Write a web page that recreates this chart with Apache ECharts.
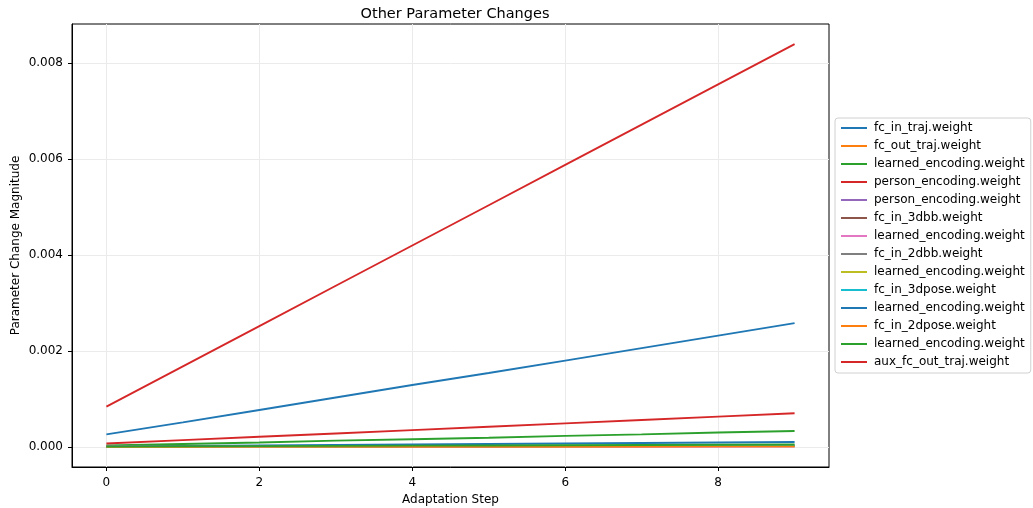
<!DOCTYPE html>
<html>
<head>
<meta charset="utf-8">
<script src="https://cdn.jsdelivr.net/npm/echarts@6/dist/echarts.min.js"></script>
<style>html,body{margin:0;padding:0;background:#fff;}#c{width:1033px;height:508px;}</style>
</head>
<body>
<div id="c"></div>
<script>
const steps = [0, 1, 2, 3, 4, 5, 6, 7, 8, 9];
const seriesNames = [
  'fc_in_traj.weight', 'fc_out_traj.weight', 'learned_encoding.weight', 'person_encoding.weight',
  'person_encoding.weight', 'fc_in_3dbb.weight', 'learned_encoding.weight', 'fc_in_2dbb.weight',
  'learned_encoding.weight', 'fc_in_3dpose.weight', 'learned_encoding.weight', 'fc_in_2dpose.weight',
  'learned_encoding.weight', 'aux_fc_out_traj.weight'
];
const fcInTraj       = [0.00026, 0.00051, 0.00077, 0.00103, 0.00129, 0.00154, 0.00180, 0.00206, 0.00232, 0.00258];
const fcOutTraj      = [0.000003, 0.000004, 0.000005, 0.000006, 0.000007, 0.000008, 0.000009, 0.00001, 0.000011, 0.000012];
const learnedEnc1    = [0.00003, 0.00006, 0.00009, 0.00013, 0.00016, 0.00019, 0.00023, 0.00026, 0.00030, 0.00033];
const personEnc1     = [0.00007, 0.00014, 0.00021, 0.00028, 0.00035, 0.00042, 0.00049, 0.00056, 0.00063, 0.00070];
const personEnc2     = [0.000002, 0.000003, 0.000004, 0.000005, 0.000006, 0.000007, 0.000008, 0.000009, 0.00001, 0.000011];
const fcIn3dbb       = [0.000004, 0.000006, 0.000008, 0.00001, 0.000012, 0.000014, 0.000016, 0.000018, 0.00002, 0.000022];
const learnedEnc2    = [0.000001, 0.000002, 0.000003, 0.000004, 0.000005, 0.000006, 0.000007, 0.000008, 0.000009, 0.00001];
const fcIn2dbb       = [0.000003, 0.000005, 0.000007, 0.000009, 0.000011, 0.000013, 0.000015, 0.000017, 0.000019, 0.000021];
const learnedEnc3    = [0.000002, 0.000004, 0.000006, 0.000008, 0.00001, 0.000012, 0.000014, 0.000016, 0.000018, 0.00002];
const fcIn3dpose     = [0.000004, 0.000007, 0.00001, 0.000013, 0.000016, 0.000019, 0.000022, 0.000025, 0.000028, 0.000031];
const learnedEnc4    = [0.00001, 0.00002, 0.00003, 0.00004, 0.00005, 0.00006, 0.00007, 0.00008, 0.00009, 0.00010];
const fcIn2dpose     = [0.000002, 0.000003, 0.000004, 0.000005, 0.000006, 0.000007, 0.000008, 0.000009, 0.00001, 0.000011];
const learnedEnc5    = [0.000005, 0.00001, 0.000015, 0.00002, 0.000025, 0.00003, 0.000035, 0.00004, 0.000045, 0.00005];
const auxFcOutTraj   = [0.00084, 0.00168, 0.00252, 0.00336, 0.00420, 0.00504, 0.00588, 0.00672, 0.00756, 0.00840];
const seriesValues = [fcInTraj, fcOutTraj, learnedEnc1, personEnc1, personEnc2, fcIn3dbb, learnedEnc2,
  fcIn2dbb, learnedEnc3, fcIn3dpose, learnedEnc4, fcIn2dpose, learnedEnc5, auxFcOutTraj];
const xTicks = [0, 2, 4, 6, 8];
const yTicks = [0, 0.002, 0.004, 0.006, 0.008];
const palette = ['#1f77b4', '#ff7f0e', '#2ca02c', '#d62728', '#9467bd', '#8c564b', '#e377c2', '#7f7f7f', '#bcbd22', '#17becf'];

// make duplicate legend names unique with zero-width spaces
const seen = {};
const uniqueNames = seriesNames.map(n => {
  seen[n] = (seen[n] || 0) + 1;
  return n + '\u200b'.repeat(seen[n] - 1);
});

const font = 'DejaVu Sans';
const chart = echarts.init(document.getElementById('c'), null, {renderer: 'canvas'});
chart.setOption({
  animation: false,
  backgroundColor: '#fff',
  title: {
    text: 'Other Parameter Changes', left: 450, top: 2, textAlign: 'center',
    textStyle: {fontFamily: font, fontSize: 14.5, fontWeight: 'normal', color: '#000'}
  },
  grid: {left: 72, right: 204, top: 24, bottom: 41, outerBoundsMode: 'none', containLabel: false,
    show: true, borderColor: '#000', borderWidth: 1, backgroundColor: 'transparent'},
  legend: {
    orient: 'vertical', left: 835, top: 118,
    data: uniqueNames,
    icon: 'rect', itemWidth: 26, itemHeight: 2, itemGap: 4,
    padding: [3, 6, 4, 6],
    borderColor: '#d0d0d0', borderWidth: 1, borderRadius: 3,
    textStyle: {fontFamily: font, fontSize: 12, color: '#000', lineHeight: 14, padding: [0, 0, 0, 2]}
  },
  xAxis: {
    type: 'value', min: -0.45, max: 9.45,
    name: 'Adaptation Step', nameLocation: 'middle', nameGap: 24,
    nameTextStyle: {fontFamily: font, fontSize: 12, color: '#000'},
    axisLine: {show: true, onZero: false, lineStyle: {color: '#000', width: 1}},
    axisTick: {show: true, length: 4, inside: false, customValues: xTicks, lineStyle: {color: '#000'}},
    axisLabel: {customValues: xTicks, fontFamily: font, fontSize: 12, color: '#000', margin: 10, formatter: v => String(v)},
    splitLine: {show: true, lineStyle: {color: '#ebebeb', width: 1}}
  },
  yAxis: {
    type: 'value', min: -0.00042, max: 0.00882,
    name: 'Parameter Change Magnitude', nameLocation: 'middle', nameGap: 50, nameMoveOverlap: false,
    nameTextStyle: {fontFamily: font, fontSize: 12, color: '#000'},
    axisLine: {show: true, onZero: false, lineStyle: {color: '#000', width: 1}},
    axisTick: {show: true, length: 4, inside: false, customValues: yTicks, lineStyle: {color: '#000'}},
    axisLabel: {customValues: yTicks, fontFamily: font, fontSize: 12, color: '#000', margin: 9, formatter: v => v.toFixed(3)},
    splitLine: {show: true, lineStyle: {color: '#ebebeb', width: 1}}
  },
  series: seriesValues.map((vals, i) => ({
    name: uniqueNames[i],
    type: 'line',
    data: steps.map((s, j) => [s, vals[j]]),
    showSymbol: false,
    symbol: 'none',
    color: palette[i % 10],
    lineStyle: {width: 1.9, color: palette[i % 10]},
    z: 2 + i
  }))
});
</script>
</body>
</html>
